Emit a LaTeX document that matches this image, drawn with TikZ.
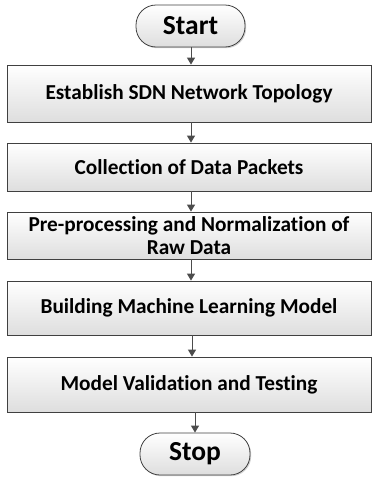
\documentclass[tikz,border=0pt]{standalone}
\usepackage{fontspec}
\setmainfont[Ligatures={NoCommon}]{Carlito}
\usetikzlibrary{shadows,arrows.meta}
\begin{document}
\begin{tikzpicture}[x=1pt,y=1pt,
  stepbox/.style={draw=black!75, line width=0.8pt, top color=white, bottom color=black!13,
    minimum width=364pt, inner sep=1pt, align=center, font=\bfseries\fontsize{21.3}{23}\selectfont,
    drop shadow={shadow xshift=1.2pt, shadow yshift=-1.2pt, fill=black!35}},
  term/.style={draw=black!75, line width=0.8pt, top color=white, bottom color=black!13,
    rounded corners=20pt, minimum width=109pt, minimum height=42pt, inner sep=0pt,
    font=\bfseries\fontsize{27.5}{30}\selectfont,
    drop shadow={shadow xshift=1.2pt, shadow yshift=-1.2pt, fill=black!35}},
  arr/.style={draw=black!70, line width=1pt, -{Triangle[length=7pt,width=8pt]}}]
\useasboundingbox (0,0) rectangle (372,-477);
\node[term] (start) at (190.5,-26) {Start};
\node[stepbox, minimum height=57pt] (b1) at (189,-93.5) {Establish SDN Network Topology};
\node[stepbox, minimum height=48pt] (b2) at (189,-167) {Collection of Data Packets};
\node[stepbox, minimum height=47pt] (b3) at (189,-235.5) {Pre-processing and Normalization of\\Raw Data};
\node[stepbox, minimum height=54pt] (b4) at (189,-308) {Building Machine Learning Model};
\node[stepbox, minimum height=55pt] (b5) at (189,-384.5) {Model Validation and Testing};
\node[term, minimum width=110pt] (stop) at (195,-454) {Stop};
\draw[arr] (start.south -| 191,0) -- (b1.north -| 191,0);
\draw[arr] (b1.south -| 191,0) -- (b2.north -| 191,0);
\draw[arr] (b2.south -| 191,0) -- (b3.north -| 191,0);
\draw[arr] (b3.south -| 191,0) -- (b4.north -| 191,0);
\draw[arr] (b4.south -| 192,0) -- (b5.north -| 192,0);
\draw[arr] (b5.south -| 195,0) -- (stop.north);
\end{tikzpicture}
\end{document}
